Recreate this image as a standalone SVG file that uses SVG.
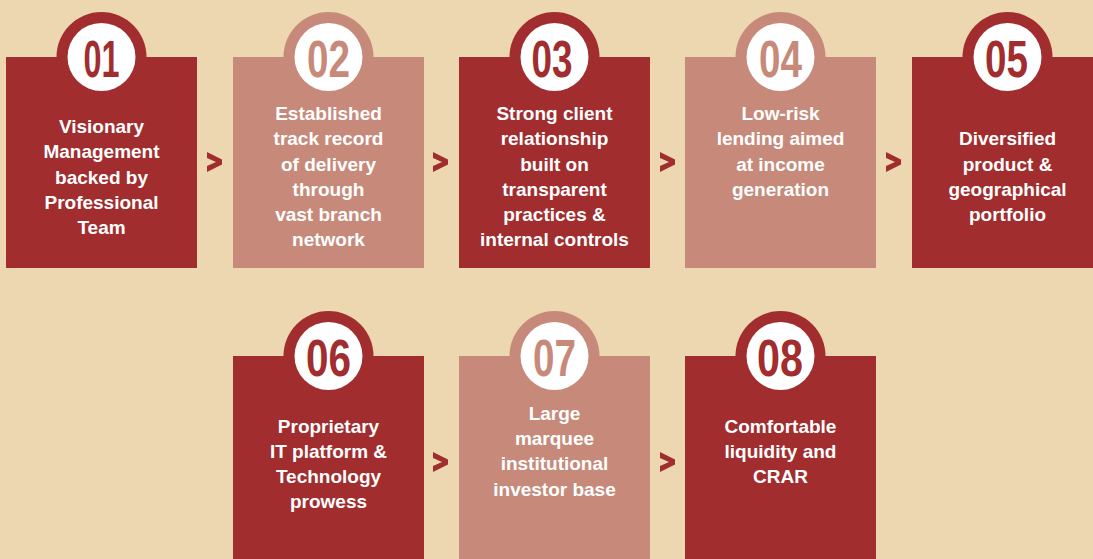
<svg xmlns="http://www.w3.org/2000/svg" width="1093" height="559" viewBox="0 0 1093 559">
  <defs>
    <style>
      .dark { fill: #A12D2E; }
      .light { fill: #C78A7A; }
      .disc { fill: #FFFFFF; }
      .num { font-family: "Liberation Sans", Arial, sans-serif; font-weight: bold; font-size: 52px; text-anchor: middle; }
      .num.d { fill: #A12D2E; }
      .num.l { fill: #C78A7A; }
      .lbl { font-family: "Liberation Sans", Arial, sans-serif; font-weight: bold; font-size: 19px; fill: #FFFFFF; text-anchor: middle; }
      .chev { fill: #A12D2E; }
    </style>
    <path id="chev" d="M0,0 L15,7.5 L15,12.5 L0,20 L0,14 L9,10 L0,6 Z"/>
  </defs>

  <rect width="1093" height="559" fill="#EDD7B1"/>

  <!-- row 1 -->
  <g id="node-01">
    <circle class="dark" cx="101.5" cy="57" r="45"/>
    <rect class="dark" x="6" y="57" width="191" height="211"/>
    <circle class="disc" cx="101.5" cy="57" r="34"/>
    <text class="num d" x="101.5" y="76.5" textLength="36" lengthAdjust="spacingAndGlyphs">01</text>
    <text class="lbl" x="101.5" y="133">Visionary</text>
    <text class="lbl" x="101.5" y="158">Management</text>
    <text class="lbl" x="101.5" y="184">backed by</text>
    <text class="lbl" x="101.5" y="209">Professional</text>
    <text class="lbl" x="101.5" y="234">Team</text>
  </g>

  <g id="node-02">
    <circle class="light" cx="328.5" cy="57" r="45"/>
    <rect class="light" x="233" y="57" width="191" height="211"/>
    <circle class="disc" cx="328.5" cy="57" r="34"/>
    <text class="num l" x="328.5" y="76.5" textLength="43" lengthAdjust="spacingAndGlyphs">02</text>
    <text class="lbl" x="328.5" y="120">Established</text>
    <text class="lbl" x="328.5" y="145">track record</text>
    <text class="lbl" x="328.5" y="171">of delivery</text>
    <text class="lbl" x="328.5" y="196">through</text>
    <text class="lbl" x="328.5" y="221">vast branch</text>
    <text class="lbl" x="328.5" y="246">network</text>
  </g>

  <g id="node-03">
    <circle class="dark" cx="554.5" cy="57" r="45"/>
    <rect class="dark" x="459" y="57" width="191" height="211"/>
    <circle class="disc" cx="554.5" cy="57" r="34"/>
    <text class="num d" x="552" y="76.5" textLength="41" lengthAdjust="spacingAndGlyphs">03</text>
    <text class="lbl" x="554.5" y="120">Strong client</text>
    <text class="lbl" x="554.5" y="145">relationship</text>
    <text class="lbl" x="554.5" y="171">built on</text>
    <text class="lbl" x="554.5" y="196">transparent</text>
    <text class="lbl" x="554.5" y="221">practices &amp;</text>
    <text class="lbl" x="554.5" y="246">internal controls</text>
  </g>

  <g id="node-04">
    <circle class="light" cx="780.5" cy="57" r="45"/>
    <rect class="light" x="685" y="57" width="191" height="211"/>
    <circle class="disc" cx="780.5" cy="57" r="34"/>
    <text class="num l" x="780.5" y="76.5" textLength="43" lengthAdjust="spacingAndGlyphs">04</text>
    <text class="lbl" x="780.5" y="120">Low-risk</text>
    <text class="lbl" x="780.5" y="145">lending aimed</text>
    <text class="lbl" x="780.5" y="171">at income</text>
    <text class="lbl" x="780.5" y="196">generation</text>
  </g>

  <g id="node-05">
    <circle class="dark" cx="1007.5" cy="57" r="45"/>
    <rect class="dark" x="912" y="57" width="191" height="211"/>
    <circle class="disc" cx="1007.5" cy="57" r="34"/>
    <text class="num d" x="1006.5" y="76.5" textLength="43" lengthAdjust="spacingAndGlyphs">05</text>
    <text class="lbl" x="1007.5" y="145">Diversified</text>
    <text class="lbl" x="1007.5" y="171">product &amp;</text>
    <text class="lbl" x="1007.5" y="196">geographical</text>
    <text class="lbl" x="1007.5" y="221">portfolio</text>
  </g>

  <!-- row 2 -->
  <g id="node-06">
    <circle class="dark" cx="328.5" cy="356" r="45"/>
    <rect class="dark" x="233" y="356" width="191" height="210"/>
    <circle class="disc" cx="328.5" cy="356" r="34"/>
    <text class="num d" x="328.5" y="375.5" textLength="45" lengthAdjust="spacingAndGlyphs">06</text>
    <text class="lbl" x="328.5" y="433">Proprietary</text>
    <text class="lbl" x="328.5" y="458">IT platform &amp;</text>
    <text class="lbl" x="328.5" y="483">Technology</text>
    <text class="lbl" x="328.5" y="508">prowess</text>
  </g>

  <g id="node-07">
    <circle class="light" cx="554.5" cy="356" r="45"/>
    <rect class="light" x="459" y="356" width="191" height="210"/>
    <circle class="disc" cx="554.5" cy="356" r="34"/>
    <text class="num l" x="554.5" y="375.5" textLength="43" lengthAdjust="spacingAndGlyphs">07</text>
    <text class="lbl" x="554.5" y="420">Large</text>
    <text class="lbl" x="554.5" y="445">marquee</text>
    <text class="lbl" x="554.5" y="470">institutional</text>
    <text class="lbl" x="554.5" y="496">investor base</text>
  </g>

  <g id="node-08">
    <circle class="dark" cx="780.5" cy="356" r="45"/>
    <rect class="dark" x="685" y="356" width="191" height="210"/>
    <circle class="disc" cx="780.5" cy="356" r="34"/>
    <text class="num d" x="780" y="375.5" textLength="46" lengthAdjust="spacingAndGlyphs">08</text>
    <text class="lbl" x="780.5" y="433">Comfortable</text>
    <text class="lbl" x="780.5" y="458">liquidity and</text>
    <text class="lbl" x="780.5" y="483">CRAR</text>
  </g>

  <!-- chevron connectors between steps -->
  <g id="connectors" class="chev">
    <use href="#chev" x="207" y="152"/>
    <use href="#chev" x="433" y="152"/>
    <use href="#chev" x="660" y="152"/>
    <use href="#chev" x="886" y="152"/>
    <use href="#chev" x="433" y="452"/>
    <use href="#chev" x="660" y="452"/>
  </g>
</svg>
